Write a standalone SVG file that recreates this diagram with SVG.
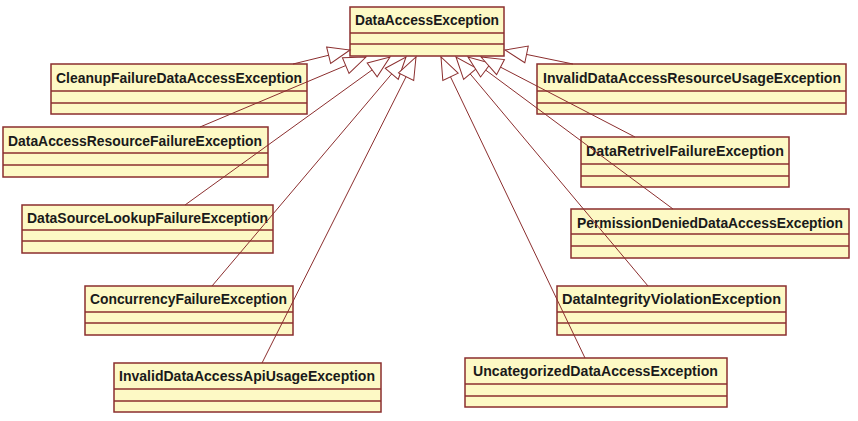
<svg xmlns="http://www.w3.org/2000/svg" width="858" height="421" viewBox="0 0 858 421">
<style>
.box{fill:#FDF9C5;stroke:#8B2E2E;stroke-width:1.5}
.sep{stroke:#8B2E2E;stroke-width:1.5}
.t{font-family:"Liberation Sans",Arial,sans-serif;font-weight:bold;font-size:14px;fill:#1a1a1a}
.c{stroke:#8B2E2E;stroke-width:1;fill:none;marker-end:url(#gen)}
</style>
<defs>
<marker id="gen" markerUnits="userSpaceOnUse" markerWidth="24" markerHeight="19" refX="22" refY="8.5" orient="auto" overflow="visible">
<path d="M0,0 L22,8.5 L0,17 Z" fill="#fff" stroke="#8B2E2E" stroke-width="1"/>
</marker>
</defs>
<rect width="858" height="421" fill="#fff"/>
<g id="DataAccessException">
<rect class="box" x="350" y="7" width="154" height="49"/>
<line class="sep" x1="350" y1="33" x2="504" y2="33"/><line class="sep" x1="350" y1="44" x2="504" y2="44"/>
<text class="t" x="355" y="24.5" textLength="144" lengthAdjust="spacingAndGlyphs">DataAccessException</text>
</g>
<g id="CleanupFailureDataAccessException">
<rect class="box" x="51" y="64" width="256" height="50"/>
<line class="sep" x1="51" y1="91" x2="307" y2="91"/><line class="sep" x1="51" y1="103" x2="307" y2="103"/>
<text class="t" x="56" y="82.5" textLength="246" lengthAdjust="spacingAndGlyphs">CleanupFailureDataAccessException</text>
</g>
<g id="DataAccessResourceFailureException">
<rect class="box" x="3" y="127" width="265" height="50"/>
<line class="sep" x1="3" y1="153" x2="268" y2="153"/><line class="sep" x1="3" y1="165" x2="268" y2="165"/>
<text class="t" x="8" y="145.5" textLength="254" lengthAdjust="spacingAndGlyphs">DataAccessResourceFailureException</text>
</g>
<g id="DataSourceLookupFailureException">
<rect class="box" x="22" y="205" width="251" height="48"/>
<line class="sep" x1="22" y1="230" x2="273" y2="230"/><line class="sep" x1="22" y1="241" x2="273" y2="241"/>
<text class="t" x="27" y="222.5" textLength="241" lengthAdjust="spacingAndGlyphs">DataSourceLookupFailureException</text>
</g>
<g id="ConcurrencyFailureException">
<rect class="box" x="85" y="286" width="208" height="49"/>
<line class="sep" x1="85" y1="312" x2="293" y2="312"/><line class="sep" x1="85" y1="323" x2="293" y2="323"/>
<text class="t" x="90" y="303.5" textLength="197" lengthAdjust="spacingAndGlyphs">ConcurrencyFailureException</text>
</g>
<g id="InvalidDataAccessApiUsageException">
<rect class="box" x="114" y="363" width="267" height="49"/>
<line class="sep" x1="114" y1="389" x2="381" y2="389"/><line class="sep" x1="114" y1="401" x2="381" y2="401"/>
<text class="t" x="119" y="380.5" textLength="256" lengthAdjust="spacingAndGlyphs">InvalidDataAccessApiUsageException</text>
</g>
<g id="InvalidDataAccessResourceUsageException">
<rect class="box" x="537" y="64" width="309" height="50"/>
<line class="sep" x1="537" y1="91" x2="846" y2="91"/><line class="sep" x1="537" y1="103" x2="846" y2="103"/>
<text class="t" x="543" y="82.5" textLength="298" lengthAdjust="spacingAndGlyphs">InvalidDataAccessResourceUsageException</text>
</g>
<g id="DataRetrivelFailureException">
<rect class="box" x="581" y="137" width="208" height="50"/>
<line class="sep" x1="581" y1="164" x2="789" y2="164"/><line class="sep" x1="581" y1="176" x2="789" y2="176"/>
<text class="t" x="586" y="155.5" textLength="198" lengthAdjust="spacingAndGlyphs">DataRetrivelFailureException</text>
</g>
<g id="PermissionDeniedDataAccessException">
<rect class="box" x="571" y="209" width="278" height="49"/>
<line class="sep" x1="571" y1="234" x2="849" y2="234"/><line class="sep" x1="571" y1="246" x2="849" y2="246"/>
<text class="t" x="577" y="227.5" textLength="266" lengthAdjust="spacingAndGlyphs">PermissionDeniedDataAccessException</text>
</g>
<g id="DataIntegrityViolationException">
<rect class="box" x="557" y="286" width="229" height="49"/>
<line class="sep" x1="557" y1="312" x2="786" y2="312"/><line class="sep" x1="557" y1="323" x2="786" y2="323"/>
<text class="t" x="562" y="303.5" textLength="219" lengthAdjust="spacingAndGlyphs">DataIntegrityViolationException</text>
</g>
<g id="UncategorizedDataAccessException">
<rect class="box" x="465" y="358" width="262" height="49"/>
<line class="sep" x1="465" y1="384" x2="727" y2="384"/><line class="sep" x1="465" y1="396" x2="727" y2="396"/>
<text class="t" x="473" y="375.5" textLength="245" lengthAdjust="spacingAndGlyphs">UncategorizedDataAccessException</text>
</g>
<g id="connectors">
<line class="c" x1="293" y1="64" x2="350" y2="50"/>
<line class="c" x1="200" y1="127" x2="366" y2="57"/>
<line class="c" x1="185" y1="205" x2="390" y2="57"/>
<line class="c" x1="212" y1="286" x2="406" y2="57"/>
<line class="c" x1="262" y1="363" x2="416" y2="57"/>
<line class="c" x1="585" y1="358" x2="441" y2="57"/>
<line class="c" x1="648" y1="286" x2="456" y2="57"/>
<line class="c" x1="673" y1="209" x2="468" y2="57"/>
<line class="c" x1="635" y1="137" x2="481" y2="57"/>
<line class="c" x1="573" y1="64" x2="505" y2="50"/>
</g>
</svg>
